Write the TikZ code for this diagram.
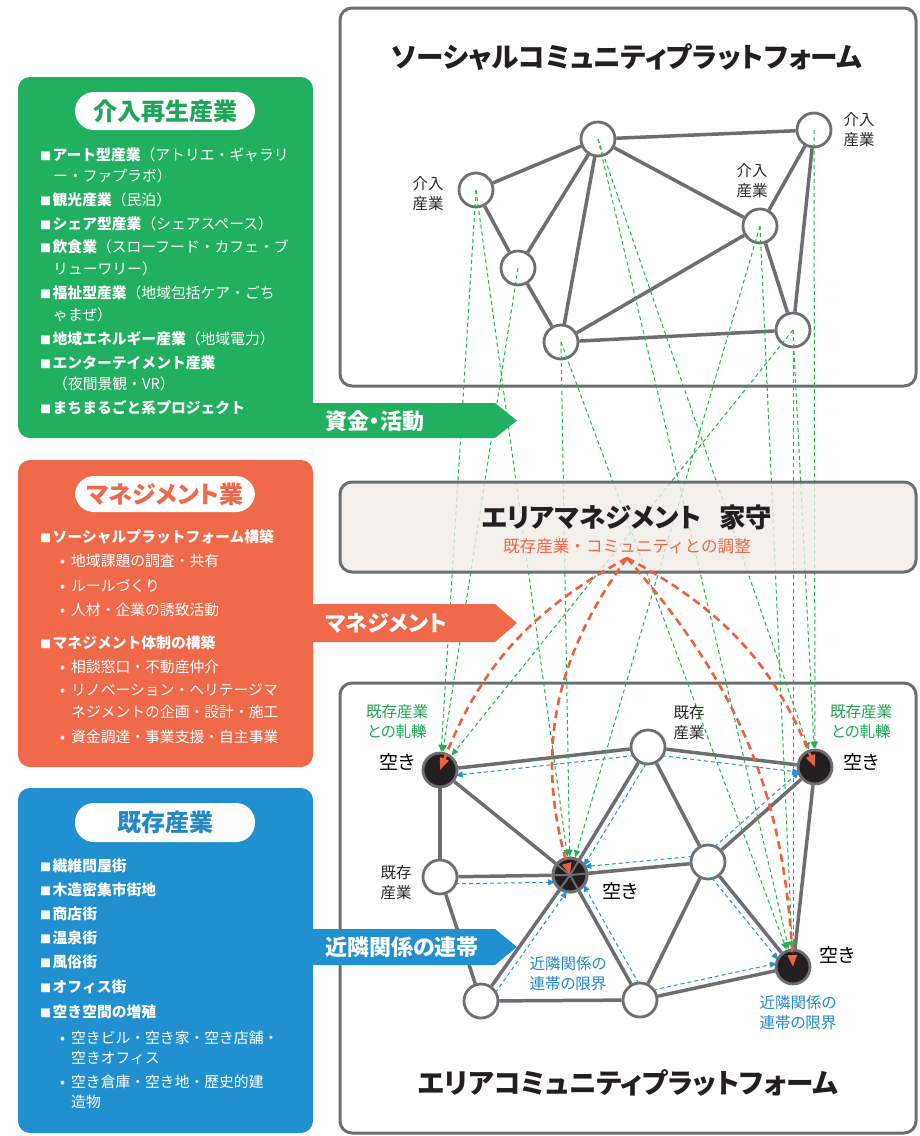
\documentclass[tikz,border=0pt]{standalone}
\usepackage{fontspec}
\setmainfont{Noto Sans CJK JP}[RawFeature={+palt}]
\newfontfamily\listfont{Noto Sans CJK JP}
\usetikzlibrary{arrows.meta,calc}
\definecolor{grn}{RGB}{33,176,95}
\definecolor{grnt}{RGB}{30,165,88}
\definecolor{org}{RGB}{240,105,74}
\definecolor{blu}{RGB}{33,144,208}
\definecolor{blut}{RGB}{35,136,200}
\definecolor{gry}{RGB}{109,110,113}
\definecolor{mfill}{RGB}{239,235,228}
\definecolor{nblk}{RGB}{35,31,32}
\definecolor{grd}{RGB}{34,177,80}
\definecolor{bld}{RGB}{37,144,210}
\definecolor{redd}{RGB}{238,95,63}
\definecolor{dtxt}{RGB}{40,40,40}
\newcommand\fsz[1]{\fontsize{#1}{#1}\selectfont}
\newcommand\sqb{{\fsz{11}■}\hspace{1.5pt}}
\newcommand\dotb{\makebox[11pt][l]{•}}
\tikzset{
  panel/.style={draw=gry, line width=3pt, rounded corners=12pt},
  wnode/.style={circle, draw=gry, line width=2.8pt, fill=white, minimum size=34pt, inner sep=0pt},
  bnode/.style={wnode, fill=nblk},
  edge/.style={draw=gry, line width=3.5pt},
  spoke/.style={draw=gry, line width=2pt},
  grarr/.style={draw=grd, line width=1pt, dash pattern=on 4pt off 3pt, -{Triangle[length=7pt,width=6pt]}},
  bluarr/.style={draw=bld, line width=1pt, dash pattern=on 4pt off 3pt, -{Triangle[length=7pt,width=6pt]}, shorten >=15pt, shorten <=15pt},
  redarr/.style={draw=redd, line width=2.6pt, dash pattern=on 8pt off 5pt, -{Triangle[length=12pt,width=9pt]}},
  offl/.style={to path={($(\tikztostart.center)!7pt!90:(\tikztotarget.center)$) -- ($(\tikztotarget.center)!7pt!-90:(\tikztostart.center)$)}},
  offr/.style={to path={($(\tikztostart.center)!7pt!-90:(\tikztotarget.center)$) -- ($(\tikztotarget.center)!7pt!90:(\tikztostart.center)$)}},
  litem/.style={anchor=west, inner sep=0pt, text=white, font=\listfont\fsz{14.8}},
  lbl/.style={align=center, inner sep=0pt, text=dtxt, font=\fontsize{15.5}{20}\selectfont},
  glbl/.style={lbl, text=grnt},
  blbl/.style={lbl, text=blut},
  akilbl/.style={inner sep=0pt, text=black, font=\fsz{19}},
  title/.style={inner sep=0pt, text=nblk, font=\fsz{27.6}\bfseries},
  pill/.style={fill=white, rounded corners=19pt},
  bartext/.style={anchor=west, inner sep=0pt, text=white, font=\fsz{22}\bfseries},
}
\begin{document}
\begin{tikzpicture}[x=1pt,y=-1pt]
\useasboundingbox (0,0) rectangle (920,1136);

% ---------- top panel ----------
\draw[panel] (340,8) rectangle (916,386);
\node[title] (ttop) at (627,57) {ソーシャルコミュニティプラットフォーム};
\node[wnode] (A) at (476,190) {};
\node[wnode] (B) at (598,139) {};
\node[wnode] (C) at (814,130) {};
\node[wnode] (D) at (760,226) {};
\node[wnode] (E) at (518,268) {};
\node[wnode] (F) at (561,342) {};
\node[wnode] (G) at (793,330) {};
\foreach \a/\b in {A/B,A/E,E/B,E/F,F/B,B/C,B/D,D/C,D/F,D/G,G/C,F/G}
  \draw[edge] (\a) -- (\b);
\node[lbl] (lA) at (428,194) {介入\\産業};
\node[lbl] (lC) at (859,130) {介入\\産業};
\node[lbl] (lD) at (752,181) {介入\\産業};

% ---------- bottom panel ----------
\draw[panel] (340,683) rectangle (916,1133);
\node[title] (tbot) at (628,1083) {エリアコミュニティプラットフォーム};
\node[bnode] (P1) at (440,770) {};
\node[wnode] (P2) at (648,747) {};
\node[bnode] (P3) at (815,767) {};
\node[wnode] (P4) at (440,877) {};
\node[bnode] (P5) at (570,875) {};
\node[wnode] (P6) at (708,862) {};
\node[bnode] (P7) at (793,967) {};
\node[wnode] (P8) at (481,1001) {};
\node[wnode] (P9) at (640,1000) {};
\foreach \a/\b in {P1/P2,P2/P3,P1/P4,P4/P8,P8/P9,P2/P6,P6/P3,P6/P9,P6/P7,P3/P7,P9/P7}
  \draw[edge] (\a) -- (\b);
\foreach \a in {P1,P4,P8,P9,P2,P6}
  \draw[edge] (\a) -- (P5);
\foreach \a in {P1,P4,P8,P9,P2,P6}
  \draw[spoke] (P5.center) -- ($(P5.center)!16pt!(\a.center)$);
\draw[draw=gry, line width=2.8pt] (P5) circle (17pt);

% ---------- green dashed links ----------
\foreach \s/\t in {A/P1,A/P5,E/P1,F/P5,F/P7,B/P7,B/P3,D/P5,D/P7,G/P1,G/P3,G/P7,C/P3}
  \draw[grarr] (\s.center) -- (\t);

% ---------- middle box ----------
\draw[panel, fill=mfill, fill opacity=0.78] (340,482) rectangle (916,572);
\node[title, font=\fsz{26.5}\bfseries] (tmid) at (627,517) {エリアマネジメント\hspace{18pt}家守};
\node[inner sep=0pt, text=org, font=\listfont\fsz{16.6}] (tsub) at (627,546) {既存産業・コミュニティとの調整};
\coordinate (R) at (627,558);

% ---------- blue neighbourhood arrows ----------
\draw[bluarr] (P2) to[offl] (P1);
\draw[bluarr] (P2) to[offr] (P3);
\draw[bluarr] (P2) to[offl] (P5);
\draw[bluarr] (P4) to[offr] (P5);
\draw[bluarr] (P6) to[offr] (P5);
\draw[bluarr] (P6) to[offl] (P3);
\draw[bluarr] (P6) to[offr] (P7);
\draw[bluarr] (P8) to[offr] (P5);
\draw[bluarr] (P9) to[offr] (P5);
\draw[bluarr] (P9) to[offl] (P7);

% ---------- red adjustment curves ----------
\draw[redarr] (R) to[bend right=20] (P1.center);
\draw[redarr] (R) to[bend right=26] (P5.center);
\draw[redarr] (R) to[bend left=20] (P3.center);
\draw[redarr] (R) to[bend left=19] (P7.center);

% ---------- bottom labels ----------
\node[glbl] (lg1) at (397,722) {既存産業\\との軋轢};
\node[glbl] (lg2) at (861,722) {既存産業\\との軋轢};
\node[akilbl] (k1) at (397,762) {空き};
\node[akilbl] (k3) at (861,762) {空き};
\node[akilbl] (k5) at (620,891) {空き};
\node[akilbl] (k7) at (837,955) {空き};
\node[lbl] (lP2) at (689,723) {既存\\産業};
\node[lbl] (lP4) at (396,883) {既存\\産業};
\node[blbl] (lb1) at (568,974) {近隣関係の\\連帯の限界};
\node[blbl] (lb2) at (798,1013) {近隣関係の\\連帯の限界};

% ---------- left: green box ----------
\fill[grn, rounded corners=12pt] (18,77) rectangle (313,438);
\fill[grn] (300,403) -- (495,403) -- (517,420.5) -- (495,438) -- (300,438) -- cycle;
\node[bartext] (bg) at (325,421) {資金・活動};
\fill[pill] (75,92) rectangle (255,130);
\node[inner sep=0pt, text=grnt, font=\fsz{24}\bfseries] (pg) at (165,111) {介入再生産業};
\node[litem] (g1) at (40,155) {\sqb\textbf{アート型産業}（アトリエ・ギャラリ};
\node[litem] (g2) at (53,176) {ー・ファプラボ）};
\node[litem] (g3) at (40,200) {\sqb\textbf{観光産業}（民泊）};
\node[litem] (g4) at (40,224) {\sqb\textbf{シェア型産業}（シェアスペース）};
\node[litem] (g5) at (40,247) {\sqb\textbf{飲食業}（スローフード・カフェ・ブ};
\node[litem] (g6) at (53,269) {リューワリー）};
\node[litem] (g7) at (40,293) {\sqb\textbf{福祉型産業}（地域包括ケア・ごち};
\node[litem] (g8) at (53,315) {ゃまぜ）};
\node[litem] (g9) at (40,339) {\sqb\textbf{地域エネルギー産業}（地域電力）};
\node[litem] (g10) at (40,363) {\sqb\textbf{エンターテイメント産業}};
\node[litem] (g11) at (53,384) {（夜間景観・VR）};
\node[litem] (g12) at (40,408) {\sqb\textbf{まちまるごと系プロジェクト}};

% ---------- left: orange box ----------
\fill[org, rounded corners=12pt] (18,460) rectangle (313,767);
\fill[org] (300,604) -- (495,604) -- (517,623) -- (495,642) -- (300,642) -- cycle;
\node[bartext] (bo) at (325,623) {マネジメント};
\fill[pill] (75,476) rectangle (255,512);
\node[inner sep=0pt, text=org, font=\fsz{24}\bfseries] (po) at (165,494) {マネジメント業};
\node[litem] (o1) at (40,537) {\sqb\textbf{ソーシャルプラットフォーム構築}};
\node[litem] (o2) at (60,561) {\dotb 地域課題の調査・共有};
\node[litem] (o3) at (60,586) {\dotb ルールづくり};
\node[litem] (o4) at (60,610) {\dotb 人材・企業の誘致活動};
\node[litem] (o5) at (40,643) {\sqb\textbf{マネジメント体制の構築}};
\node[litem] (o6) at (60,667) {\dotb 相談窓口・不動産仲介};
\node[litem] (o7) at (60,690) {\dotb リノベーション・ヘリテージマ};
\node[litem] (o8) at (71,712) {ネジメントの企画・設計・施工};
\node[litem] (o9) at (60,737) {\dotb 資金調達・事業支援・自主事業};

% ---------- left: blue box ----------
\fill[blu, rounded corners=12pt] (18,788) rectangle (313,1133);
\fill[blu] (300,929) -- (495,929) -- (517,947) -- (495,965) -- (300,965) -- cycle;
\node[bartext] (bb) at (325,947) {近隣関係の連帯};
\fill[pill] (75,803) rectangle (255,842);
\node[inner sep=0pt, text=blut, font=\fsz{24}\bfseries] (pb) at (165,822) {既存産業};
\node[litem] (b1) at (40,866) {\sqb\textbf{繊維問屋街}};
\node[litem] (b2) at (40,890) {\sqb\textbf{木造密集市街地}};
\node[litem] (b3) at (40,914) {\sqb\textbf{商店街}};
\node[litem] (b4) at (40,938) {\sqb\textbf{温泉街}};
\node[litem] (b5) at (40,962) {\sqb\textbf{風俗街}};
\node[litem] (b6) at (40,987) {\sqb\textbf{オフィス街}};
\node[litem] (b7) at (40,1012) {\sqb\textbf{空き空間の増殖}};
\node[litem] (b8) at (60,1038) {\dotb 空きビル・空き家・空き店舗・};
\node[litem] (b9) at (71,1058) {空きオフィス};
\node[litem] (b10) at (60,1082) {\dotb 空き倉庫・空き地・歴史的建};
\node[litem] (b11) at (71,1102) {造物};
\end{tikzpicture}
\end{document}
